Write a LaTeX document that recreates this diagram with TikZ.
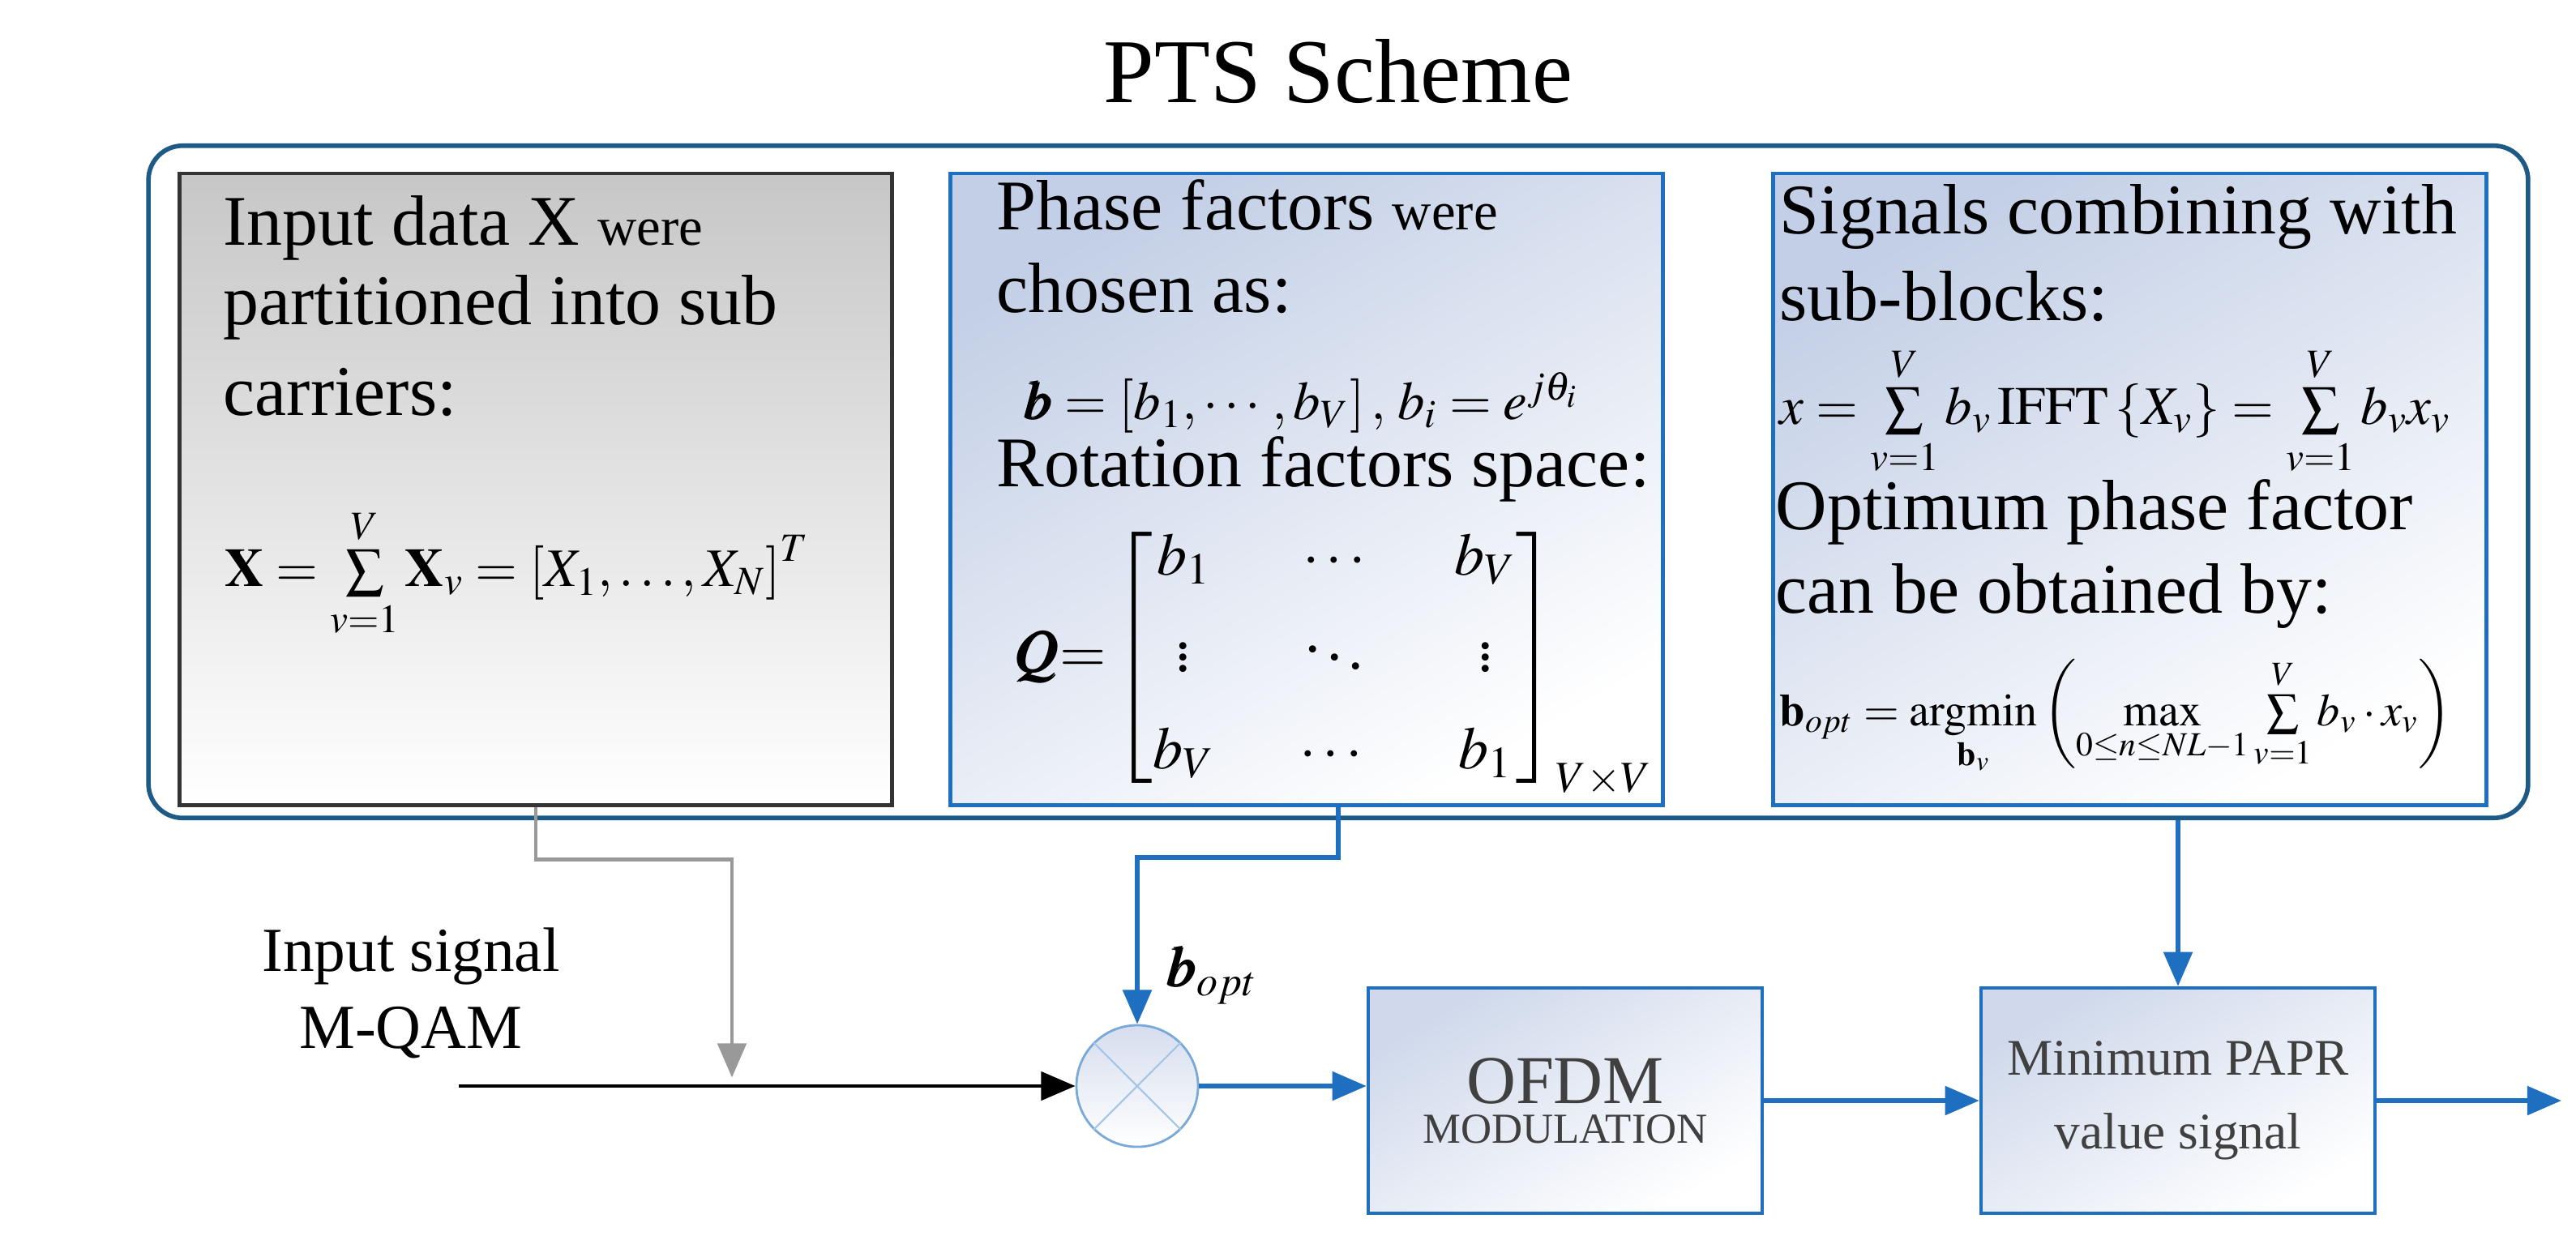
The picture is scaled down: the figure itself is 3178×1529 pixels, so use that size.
\documentclass[tikz,border=0pt]{standalone}
\usepackage{amsmath}
\usepackage{amssymb}
\usepackage{mathptmx}
\usepackage{bm}
\usepackage{fontspec}
\setmainfont{Liberation Serif}
\usepackage{tikz}
\usetikzlibrary{arrows.meta,positioning,calc}
\definecolor{ptsblue}{HTML}{1F6FC0}
\definecolor{ptsframe}{HTML}{1D5A86}
\definecolor{ptsfill}{HTML}{C3CFE6}
\newcommand\bodyfont{\fontsize{25}{30}\selectfont}
\newcommand\smallword[1]{{\fontsize{19}{22}\selectfont #1}}

\begin{document}
\begin{tikzpicture}[x=0.01cm,y=-0.01cm,
    panel/.style={draw=ptsblue,line width=1.3pt,top color=ptsfill,bottom color=white,
                  shading angle=30,minimum width=8.79cm,minimum height=7.79cm},
    block/.style={draw=ptsblue,line width=1.2pt,top color=ptsfill!80,bottom color=white,
                  shading angle=30,minimum width=4.86cm,minimum height=2.78cm,align=center,
                  text=black!75},
    line/.style={anchor=base west,font=\bodyfont,inner sep=0pt},
    flow/.style={draw=ptsblue,line width=1.5pt,-{Triangle[length=12pt,width=10pt]}}]
\useasboundingbox (0,0) rectangle (3178,1529);

% title and frame
\node[font=\fontsize{32}{36}\selectfont] (title) at (1651,88) {PTS Scheme};
\node[draw=ptsframe,line width=1.6pt,rounded corners=12pt,minimum width=29.34cm,
      minimum height=8.29cm] (frame) at (1651,594.5) {};

% panels
\node[panel,draw=black!80,top color=black!22,bottom color=white] (part) at (661,603.5) {};
\node[panel] (phase) at (1612,603.5) {};
\node[panel] (comb) at (2627.5,603.5) {};

\node[line] at (275,302) {Input data X \smallword{were}};
\node[line] at (275,400) {partitioned into sub};
\node[line] at (275,512) {carriers:};
\node[anchor=west,font=\fontsize{19}{22}\selectfont] at (265,707)
  {$\mathbf{X}=\sum\limits_{v=1}^{V}\mathbf{X}_v=\left[X_1,\ldots,X_N\right]^T$};

\node[line] at (1229,283) {Phase factors \smallword{were}};
\node[line] at (1229,385) {chosen as:};
\node[anchor=west,font=\fontsize{19}{22}\selectfont] at (1250,497)
  {$\bm{b}=\left[b_1,\cdots,b_V\right],\,b_i=e^{j\theta_i}$};
\node[line] at (1229,600) {Rotation factors space:};
\node[anchor=west,font=\fontsize{21}{25}\selectfont,inner sep=0pt] at (1250,815)
  {$\bm{Q}{=}\begin{bmatrix} b_1 & \quad\cdots\quad & b_V\\[9pt] \vdots & \ddots & \vdots\\[9pt] b_V & \cdots & b_1\end{bmatrix}_{V\times V}$};

\node[line] at (2195,288) {Signals combining with};
\node[line] at (2195,395) {sub-blocks:};
\node[anchor=west,font=\fontsize{19}{22}\selectfont,inner sep=0pt] at (2195,507)
  {$x=\sum\limits_{v=1}^{V} b_v\,\mathrm{IFFT}\left\{X_v\right\}=\sum\limits_{v=1}^{V} b_v x_v$};
\node[line] at (2190,653) {Optimum phase factor};
\node[line] at (2190,756) {can be obtained by:};
\node[anchor=west,font=\fontsize{16}{20}\selectfont,inner sep=0pt] at (2195,885)
  {$\mathbf{b}_{opt}=\operatorname*{argmin}\limits_{\mathbf{b}_v}\left(\max\limits_{0\le n\le NL-1}\sum\limits_{v=1}^{V} b_v\cdot x_v\right)$};

% lower chain
\node[draw=ptsblue!60,line width=0.8pt,circle,minimum size=1.5cm,inner sep=0pt,
      top color=ptsfill!70,bottom color=white] (mix) at (1403,1340) {};
\draw[ptsblue!40,line width=0.6pt] (mix.north west) -- (mix.south east)
  (mix.north east) -- (mix.south west);
\node[block] (ofdm) at (1931,1358)
  {{\fontsize{24}{28}\selectfont OFDM}\\[2pt]{\fontsize{15}{17}\selectfont MODULATION}};
\node[block,font=\fontsize{18}{26}\selectfont] (papr) at (2687,1358)
  {Minimum PAPR\\ value signal};
\node[font=\fontsize{22}{27}\selectfont,align=center] (insig) at (507,1225)
  {Input signal\\ M-QAM};
\node[font=\fontsize{20}{24}\selectfont] (bopt) at (1495,1203) {$\bm{b}_{opt}$};

\coordinate (src) at (566,1340);
\coordinate (tap) at (903,1340);
\coordinate (b2out) at (1651,993);
\coordinate (sink) at (3160,1358);

\draw[black!40,line width=1.4pt,-{Triangle[length=12pt,width=10pt]}]
  (part.south) -- ++(0,65) -| ([yshift=3pt]tap);
\draw[line width=1.2pt,-{Triangle[length=12pt,width=10pt]}] (src) -- (mix.west);
\draw[flow] (b2out) -- ++(0,65) -| (mix.north);
\draw[flow] (papr.north |- frame.south) -- (papr.north);
\draw[flow] (mix.east) -- (ofdm.west |- mix.east);
\draw[flow] (ofdm.east) -- (papr.west);
\draw[flow] (papr.east) -- (sink);
\end{tikzpicture}
\end{document}
